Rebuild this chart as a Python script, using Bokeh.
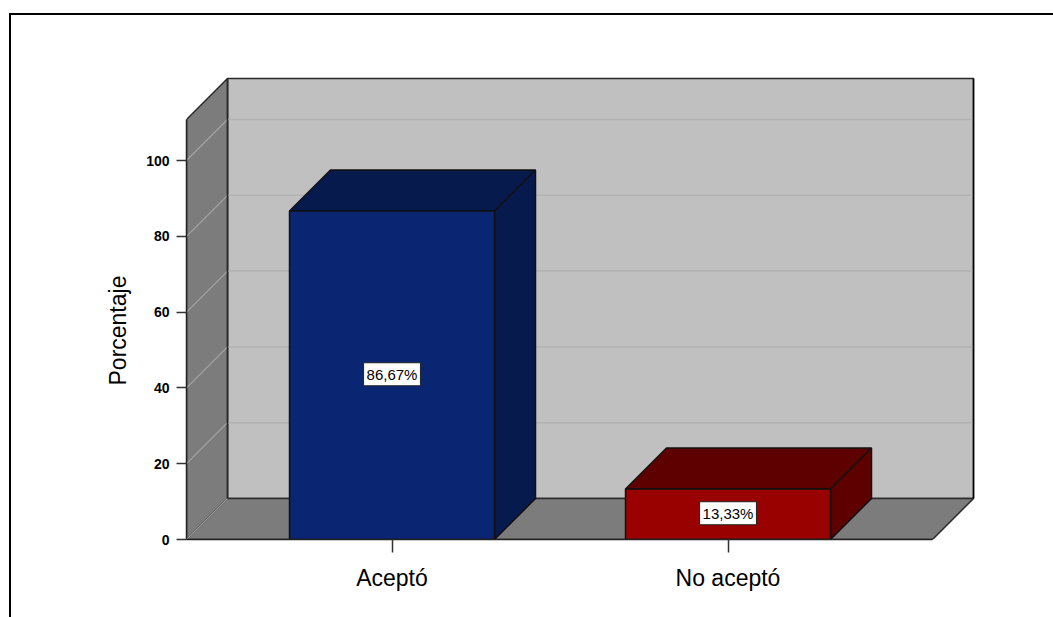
import numpy as np
from bokeh.plotting import figure
from bokeh.models import FixedTicker, Label, Title
from bokeh.embed import file_html
from bokeh.resources import INLINE

# ---- data ----
categories = ["Aceptó", "No aceptó"]
positions = [0, 1]
percent = [86.67, 13.33]
value_labels = ["86,67%", "13,33%"]
y_ticks = [0, 20, 40, 60, 80, 100]
grid_values = [20, 40, 60, 80, 100]
y_title = "Porcentaje"

# ---- geometry, in axis units ----
PX_X = 336.0      # pixels per category step
PX_Y = 3.79       # pixels per percent
def ux(n): return n / PX_X
def uy(n): return n / PX_Y
DX, DY = ux(41), uy(41)      # depth of the 3D box
BAR_W = ux(205)
X0, X1 = ux(187 - 392.5), ux(933 - 392.5)   # front floor edge
Y_TOP = uy(539 - 119)

W, H = 1053, 617
FRAME_LEFT, FRAME_BOTTOM, FRAME_TOP = 186, 78, 58
x_range = (X0, X0 + (W - FRAME_LEFT) / PX_X)
y_range = (0, (H - FRAME_BOTTOM - FRAME_TOP) / PX_Y)

p = figure(width=W, height=H, output_backend="svg", toolbar_location=None,
           x_range=x_range, y_range=y_range,
           min_border_left=FRAME_LEFT, min_border_right=0,
           min_border_top=FRAME_TOP, min_border_bottom=FRAME_BOTTOM,
           background_fill_color="white", border_fill_color="white")
p.outline_line_color = None
p.grid.visible = False

# outer frame of the image (open at right and bottom)
p.stylesheets = [""":host::after {content:''; position:absolute; left:8.5px; top:13px; right:-4px; bottom:-4px;
  border-left:2px solid #000; border-top:2px solid #000; pointer-events:none; box-sizing:border-box;}
:host {overflow:hidden;}"""]

EDGE = "#2a2a2a"
# walls
p.patch([X0 + DX, X1 + DX, X1 + DX, X0 + DX], [DY, DY, Y_TOP + DY, Y_TOP + DY],
        fill_color="#c0c0c0", line_color=EDGE, line_width=1.5)
p.patch([X0, X0 + DX, X0 + DX, X0], [0, DY, Y_TOP + DY, Y_TOP],
        fill_color="#7c7c7c", line_color=EDGE, line_width=1.5)
p.patch([X0, X0 + DX, X1 + DX, X1], [0, DY, DY, 0],
        fill_color="#7c7c7c", line_color=EDGE, line_width=1.5)

# grid lines on the back wall and side wall
gv = np.array(grid_values, dtype=float)
p.segment(x0=[X0 + DX] * len(gv), x1=[X1 + DX] * len(gv), y0=gv + DY, y1=gv + DY,
          line_color="#b2b2b2", line_width=1.5)
dv = np.array([0.0] + grid_values)
p.segment(x0=[X0] * len(dv), x1=[X0 + DX] * len(dv), y0=dv, y1=dv + DY,
          line_color="#a4a4a4", line_width=1.2)
# redraw wall edge over grid ends
p.line([X0 + DX, X0 + DX], [DY, Y_TOP + DY], line_color=EDGE, line_width=1.5)
p.line([X1 + DX, X1 + DX], [DY, Y_TOP + DY], line_color="black", line_width=1.5)

# 3D bars
fronts = ["#0a2672", "#990000"]
darks = ["#061a4e", "#5e0000"]
for pos, val, fc, dc in zip(positions, percent, fronts, darks):
    l, r = pos - BAR_W / 2, pos + BAR_W / 2
    p.patch([l, l + DX, r + DX, r], [val, val + DY, val + DY, val],
            fill_color=dc, line_color="#111111", line_width=1.5)
    p.patch([r, r + DX, r + DX, r], [0, DY, val + DY, val],
            fill_color=dc, line_color="#111111", line_width=1.5)
    p.quad(left=[l], right=[r], bottom=[0], top=[val],
           fill_color=fc, line_color="#111111", line_width=1.5)

# value labels
for pos, val, txt in zip(positions, percent, value_labels):
    p.add_layout(Label(x=pos, y=val / 2, y_offset=1, text=txt, text_align="center",
                       text_baseline="middle", text_font="Liberation Sans",
                       text_font_size="15px", text_color="black",
                       background_fill_color="white", border_line_color="#222222",
                       border_line_width=1, padding=3))

# axes
ya = p.yaxis[0]
ya.ticker = FixedTicker(ticks=y_ticks)
ya.bounds = (0, Y_TOP)
ya.axis_line_color = "#222222"
ya.axis_line_width = 1.5
ya.major_tick_line_color = "#333333"
ya.major_tick_line_width = 1.5
ya.major_tick_in = 0
ya.major_tick_out = 10
ya.minor_tick_line_color = None
ya.major_label_text_font = "Liberation Sans"
ya.major_label_text_font_style = "bold"
ya.major_label_text_font_size = "14px"
ya.major_label_text_color = "black"
ya.major_label_standoff = 7

# y title: a side title, so it can sit lower than the middle of the drawing area
p.add_layout(Title(text=y_title, align="left", offset=154, standoff=25,
                   text_font="Liberation Sans", text_font_style="normal",
                   text_font_size="23px", text_color="black"), "left")

xa = p.xaxis[0]
xa.ticker = FixedTicker(ticks=positions)
xa.major_label_overrides = dict(zip(positions, categories))
xa.bounds = (X0, X1)
xa.axis_line_color = "#222222"
xa.axis_line_width = 1.5
xa.major_tick_line_color = "#333333"
xa.major_tick_line_width = 1.5
xa.major_tick_in = 0
xa.major_tick_out = 13
xa.minor_tick_line_color = None
xa.major_label_text_font = "Liberation Sans"
xa.major_label_text_font_size = "23px"
xa.major_label_text_color = "black"
xa.major_label_standoff = 12

open("out.html", "w").write(file_html(p, INLINE))
